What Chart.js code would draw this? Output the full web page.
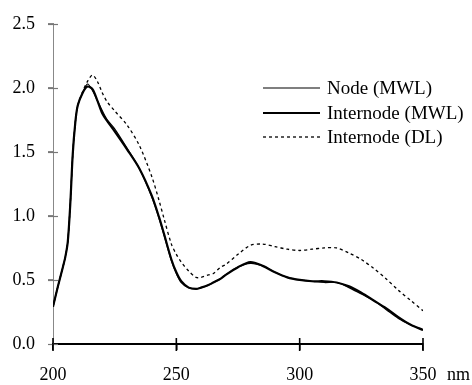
<!DOCTYPE html>
<html>
<head>
<meta charset="utf-8">
<script src="https://cdn.jsdelivr.net/npm/chart.js@4/dist/chart.umd.min.js"></script>
<style>
html,body{margin:0;padding:0;background:#fff;}
#wrap{width:472px;height:385px;}
</style>
</head>
<body>
<div id="wrap"><canvas id="c" width="472" height="385"></canvas></div>
<script>
// ---- data ----
const wavelengths = [200,202,204,205,206,207,208,209,210,212,214,216,218,220,222,225,230,235,240,243,245,248,250,252,255,258,260,263,265,268,270,275,280,285,290,295,300,305,310,315,320,325,330,335,340,345,350];
const nodeMWL = [0.29,0.45,0.60,0.68,0.80,1.09,1.48,1.72,1.86,1.96,2.03,1.98,1.90,1.82,1.75,1.68,1.53,1.37,1.15,0.98,0.85,0.65,0.55,0.48,0.44,0.43,0.44,0.46,0.48,0.51,0.54,0.60,0.63,0.61,0.56,0.52,0.50,0.49,0.48,0.48,0.44,0.39,0.34,0.27,0.20,0.15,0.11];
const internodeMWL = [0.29,0.45,0.60,0.68,0.80,1.09,1.48,1.72,1.86,1.96,2.01,1.99,1.90,1.80,1.74,1.66,1.52,1.37,1.16,0.99,0.86,0.66,0.56,0.49,0.44,0.43,0.44,0.46,0.48,0.51,0.54,0.60,0.64,0.61,0.56,0.52,0.50,0.49,0.49,0.48,0.45,0.40,0.34,0.28,0.21,0.15,0.11];
const internodeDL = [0.29,0.45,0.60,0.68,0.80,1.09,1.48,1.72,1.86,1.97,2.05,2.10,2.05,1.96,1.89,1.82,1.71,1.55,1.31,1.12,0.98,0.78,0.70,0.64,0.57,0.52,0.52,0.54,0.55,0.60,0.62,0.70,0.77,0.78,0.76,0.74,0.73,0.74,0.75,0.75,0.71,0.66,0.59,0.51,0.42,0.34,0.26];
const seriesLabels = ['Node (MWL)','Internode (MWL)','Internode (DL)'];
const xTicks = [200,250,300,350];
const yTicks = [0,0.5,1.0,1.5,2.0,2.5];
const xUnit = 'nm';

const FONT = '"Liberation Serif", "Times New Roman", serif';
const toPts = arr => wavelengths.map((w,i)=>({x:w,y:arr[i]}));

const crossTicks = {
  id:'crossTicks',
  afterDraw(chart){
    const ctx = chart.ctx, ca = chart.chartArea;
    const xs = chart.scales.x, ys = chart.scales.y;
    ctx.save();
    ctx.setLineDash([]);
    ctx.globalAlpha = 1;
    ctx.strokeStyle = '#777'; ctx.lineWidth = 1.2;
    yTicks.forEach(v=>{
      const y = Math.round(ys.getPixelForValue(v))+0.5;
      ctx.beginPath(); ctx.moveTo(ca.left-5, y); ctx.lineTo(ca.left+5, y); ctx.stroke();
    });
    ctx.strokeStyle = '#000'; ctx.lineWidth = 1.6;
    xTicks.forEach(v=>{
      const x = xs.getPixelForValue(v);
      ctx.beginPath(); ctx.moveTo(x, ca.bottom+7); ctx.lineTo(x, ca.bottom-6); ctx.stroke();
    });
    // unit label after last x tick
    const lx = xs.getPixelForValue(xTicks[xTicks.length-1]);
    ctx.font = '18px ' + FONT;
    ctx.fillStyle = '#000';
    ctx.textBaseline = 'middle';
    ctx.textAlign = 'left';
    ctx.fillText(xUnit, lx + 24, ca.bottom + 31);
    ctx.restore();
  }
};

const customLegend = {
  id:'customLegend',
  afterDraw(chart){
    const ctx = chart.ctx;
    const x0 = 263, x1 = 320, tx = 327;
    const rows = [88,113,137];
    ctx.save();
    chart.data.datasets.forEach((ds,i)=>{
      const y = rows[i];
      ctx.strokeStyle = ds.borderColor;
      ctx.lineWidth = ds.borderWidth;
      ctx.setLineDash(ds.borderDash || []);
      ctx.beginPath(); ctx.moveTo(x0,y); ctx.lineTo(x1,y); ctx.stroke();
      ctx.setLineDash([]);
      ctx.font = '19px ' + FONT;
      ctx.fillStyle = '#000';
      ctx.textBaseline = 'middle';
      ctx.textAlign = 'left';
      ctx.fillText(ds.label, tx, y+1);
    });
    ctx.restore();
  }
};

new Chart(document.getElementById('c'), {
  type:'line',
  data:{
    datasets:[
      {label:seriesLabels[0], data:toPts(nodeMWL), borderColor:'#000', borderWidth:1.2, pointRadius:0, tension:0.3, fill:false},
      {label:seriesLabels[1], data:toPts(internodeMWL), borderColor:'#000', borderWidth:2.2, pointRadius:0, tension:0.3, fill:false},
      {label:seriesLabels[2], data:toPts(internodeDL), borderColor:'#000', borderWidth:1.3, borderDash:[3,3], pointRadius:0, tension:0.3, fill:false}
    ]
  },
  options:{
    responsive:false,
    animation:false,
    layout:{padding:{top:22,right:49,left:0,bottom:0}},
    plugins:{legend:{display:false}, tooltip:{enabled:false}},
    scales:{
      x:{
        type:'linear', min:xTicks[0], max:xTicks[xTicks.length-1],
        afterBuildTicks(s){ s.ticks = xTicks.map(v=>({value:v})); },
        afterFit(s){ s.height = 41; },
        border:{display:true,color:'#000',width:2},
        grid:{display:true, drawOnChartArea:false, drawTicks:true, tickLength:6, color:'#000', lineWidth:1.5},
        ticks:{color:'#000', font:{family:FONT,size:18}, padding:14, maxRotation:0, callback:v=>String(v)}
      },
      y:{
        type:'linear', min:yTicks[0], max:yTicks[yTicks.length-1],
        afterBuildTicks(s){ s.ticks = yTicks.map(v=>({value:v})); },
        afterFit(s){ s.width = 53; },
        border:{display:true,color:'#888',width:1},
        grid:{display:true, drawOnChartArea:false, drawTicks:true, tickLength:5, color:'#888', lineWidth:1},
        ticks:{color:'#000', font:{family:FONT,size:18}, padding:13, callback:v=>Number(v).toFixed(1)}
      }
    }
  },
  plugins:[crossTicks, customLegend]
});
</script>
</body>
</html>
